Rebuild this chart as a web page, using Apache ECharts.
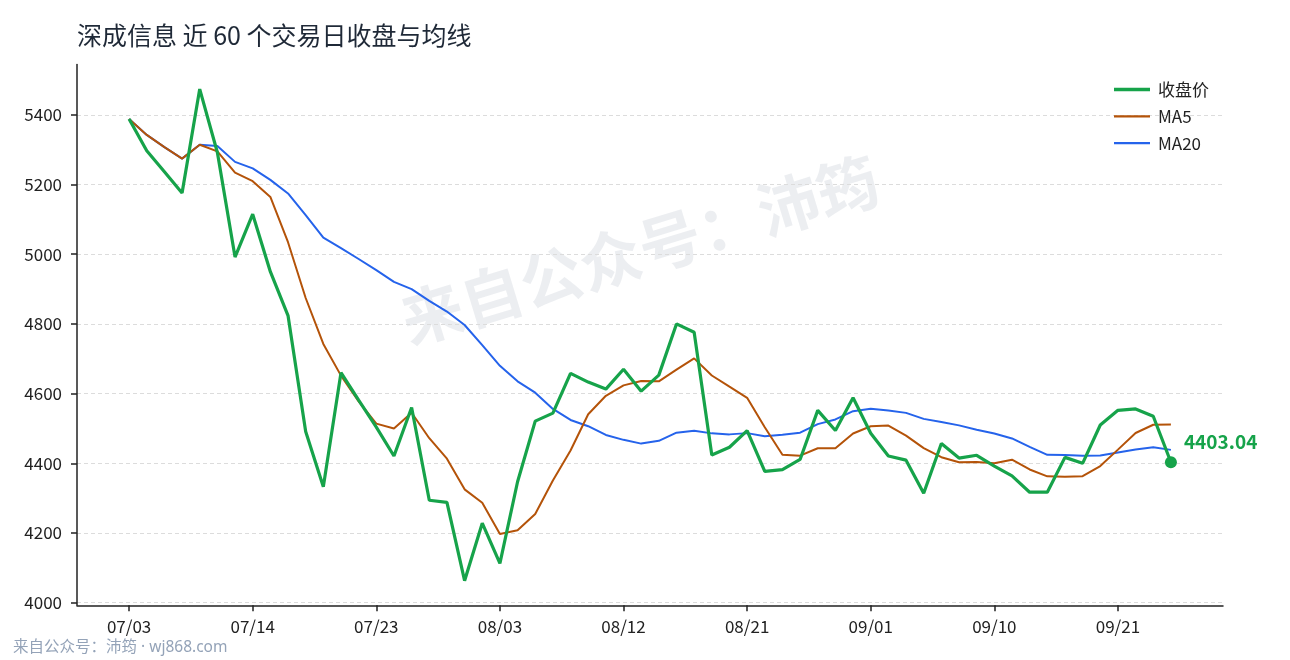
<!DOCTYPE html>
<html>
<head>
<meta charset="utf-8">
<script src="https://cdn.jsdelivr.net/npm/echarts@6/dist/echarts.min.js"></script>
<style>
html,body{margin:0;padding:0;background:#fff;}
#chart{width:1290px;height:660px;}
</style>
</head>
<body>
<div id="chart"></div>
<script>
// 交易日
var dates = ['07/03','07/06','07/07','07/08','07/09','07/10','07/13','07/14','07/15','07/16',
    '07/17','07/20','07/21','07/22','07/23','07/24','07/27','07/28','07/29','07/30',
    '07/31','08/03','08/04','08/05','08/06','08/07','08/10','08/11','08/12','08/13',
    '08/14','08/17','08/18','08/19','08/20','08/21','08/24','08/25','08/26','08/27',
    '08/28','08/31','09/01','09/02','09/03','09/04','09/07','09/08','09/09','09/10',
    '09/11','09/14','09/15','09/16','09/17','09/18','09/21','09/22','09/23','09/24'];

// 收盘价
var closeList = [5388,5297,5237,5176,5474,5292,4992,5115,4950,4824,
    4491,4333,4660,4581,4504,4421,4560,4294,4288,4063,
    4228,4113,4347,4521,4544,4658,4633,4613,4670,4607,
    4653,4800,4776,4424,4446,4494,4377,4382,4411,4552,
    4494,4588,4486,4421,4409,4314,4457,4415,4423,4392,
    4364,4317,4317,4417,4400,4510,4552,4556,4535,4403.04];

// 5日均线
var ma5List = [5388,5342.5,5307.3,5274.5,5314.4,5295.2,5234.2,5209.8,5164.6,5034.6,
    4874.4,4742.6,4651.6,4577.8,4513.8,4499.8,4545.2,4472.0,4413.4,4325.2,
    4286.6,4197.2,4207.8,4254.4,4350.6,4436.6,4540.6,4593.8,4623.6,4636.2,
    4635.2,4668.6,4701.2,4652.0,4619.8,4588.0,4503.4,4424.6,4422.0,4443.2,
    4443.2,4485.4,4506.2,4508.2,4479.6,4443.6,4417.4,4403.2,4403.6,4400.2,
    4410.2,4382.2,4362.6,4361.4,4363.0,4392.2,4439.2,4487.0,4510.6,4511.2];

// 20日均线
var ma20List = [5388,5342.5,5307.3,5274.5,5314.4,5310.7,5265.1,5246.4,5213.4,5174.5,
    5112.4,5047.4,5017.6,4986.4,4954.3,4920.9,4899.7,4866.1,4835.6,4797.0,
    4739.0,4679.8,4635.3,4602.6,4556.1,4524.4,4506.4,4481.3,4467.3,4456.5,
    4464.6,4487.9,4493.7,4485.9,4483.0,4486.6,4477.5,4481.9,4488.0,4512.5,
    4525.8,4549.5,4556.5,4551.5,4544.7,4527.5,4518.7,4508.8,4496.5,4485.7,
    4471.3,4447.1,4424.2,4423.8,4421.5,4422.3,4431.1,4439.8,4446.0,4438.5];

var xTicks = [0,7,14,21,28,35,42,49,56];
var yTicks = [4000,4200,4400,4600,4800,5000,5200,5400];

var fontFam = '"Noto Sans CJK SC", "Noto Sans", sans-serif';
var chart = echarts.init(document.getElementById('chart'));

function toPairs(list) {
    var arr = [];
    for (var i = 0; i < list.length; i++) {
        arr.push([i, list[i]]);
    }
    return arr;
}

var closeData = toPairs(closeList);
var last = closeData.length - 1;
closeData[last] = {
    value: closeData[last],
    symbol: 'circle',
    symbolSize: 12,
    label: {
        show: true,
        position: 'right',
        distance: 7,
        offset: [0, -20],
        formatter: function (p) { return p.value[1].toFixed(2); },
        color: '#16a34a',
        fontSize: 19,
        fontWeight: 'bold',
        fontFamily: fontFam
    }
};

var option = {
    animation: false,
    backgroundColor: '#fff',
    textStyle: {fontFamily: fontFam},
    title: {
        text: '深成信息 近 60 个交易日收盘与均线',
        left: 77,
        top: 23,
        padding: 0,
        textStyle: {fontSize: 25, fontWeight: 'normal', color: '#1f2937', fontFamily: fontFam}
    },
    legend: {
        orient: 'vertical',
        left: 1109,
        top: 76,
        itemWidth: 36,
        itemHeight: 14,
        itemGap: 9.8,
        data: [
            {name: '收盘价', icon: 'path://M0,0L36,0L36,3.4L0,3.4Z'},
            {name: 'MA5', icon: 'path://M0,0L36,0L36,2.2L0,2.2Z'},
            {name: 'MA20', icon: 'path://M0,0L36,0L36,2.2L0,2.2Z'}
        ],
        textStyle: {fontSize: 17, color: '#222', padding: [0, 0, 0, 3]}
    },
    grid: {left: 77, right: 67, top: 64.5, bottom: 54.7},
    xAxis: {
        type: 'value',
        min: -2.95,
        max: 61.95,
        axisLine: {show: true, onZero: false, lineStyle: {color: '#222', width: 1.5}},
        axisTick: {show: true, length: 6, customValues: xTicks, lineStyle: {color: '#222', width: 1.5}},
        axisLabel: {
            customValues: xTicks,
            margin: 13,
            fontSize: 17,
            color: '#222',
            formatter: function (v) { return dates[Math.round(v)]; }
        },
        splitLine: {show: false}
    },
    yAxis: {
        type: 'value',
        min: 3992.45,
        max: 5544.55,
        axisLine: {show: true, onZero: false, lineStyle: {color: '#222', width: 1.5}},
        axisTick: {show: true, length: 6, customValues: yTicks, lineStyle: {color: '#222', width: 1.5}},
        axisLabel: {
            customValues: yTicks,
            margin: 15,
            fontSize: 17,
            color: '#222',
            formatter: function (v) { return String(v); }
        },
        splitLine: {show: true, lineStyle: {color: '#dcdcdc', type: [4, 3], width: 1}}
    },
    graphic: [
        {
            type: 'text',
            x: 640,
            y: 250,
            rotation: 17 * Math.PI / 180,
            silent: true,
            style: {
                text: '来自公众号：沛筠',
                fontSize: 62,
                fontWeight: 'bold',
                fontFamily: fontFam,
                fill: 'rgba(100,116,139,0.12)',
                align: 'center',
                verticalAlign: 'middle'
            }
        },
        {
            type: 'text',
            left: 13,
            top: 640,
            silent: true,
            style: {
                text: '来自公众号：沛筠 · wj868.com',
                fontSize: 15.5,
                fontFamily: '"Noto Sans", "Noto Sans CJK SC", sans-serif',
                fill: '#94a3b8'
            }
        }
    ],
    series: [
        {
            name: '收盘价',
            type: 'line',
            symbol: 'none',
            z: 4,
            lineStyle: {color: '#16a34a', width: 3.2},
            itemStyle: {color: '#16a34a'},
            data: closeData
        },
        {
            name: 'MA5',
            type: 'line',
            symbol: 'none',
            z: 3,
            lineStyle: {color: '#b45309', width: 2},
            itemStyle: {color: '#b45309'},
            data: toPairs(ma5List)
        },
        {
            name: 'MA20',
            type: 'line',
            symbol: 'none',
            z: 2,
            lineStyle: {color: '#2563eb', width: 2},
            itemStyle: {color: '#2563eb'},
            data: toPairs(ma20List)
        }
    ]
};
chart.setOption(option);
</script>
</body>
</html>
